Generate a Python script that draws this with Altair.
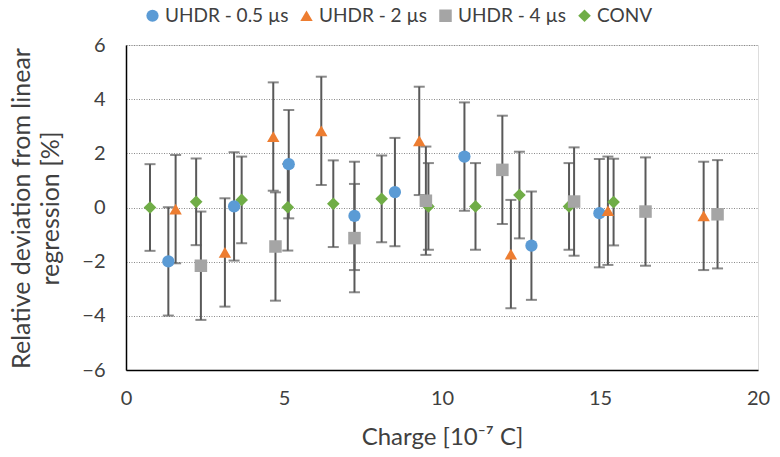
import altair as alt
import pandas as pd

# Series names (legend order)
series_names = ["UHDR - 0.5 µs", "UHDR - 2 µs", "UHDR - 4 µs", "CONV"]

# UHDR - 0.5 µs
blue_x = [1.34, 3.42, 5.15, 7.23, 8.51, 10.71, 12.83, 14.98]
blue_y = [-1.99, 0.04, 1.60, -0.31, 0.57, 1.88, -1.41, -0.21]
blue_err = [2.0, 2.0, 2.0, 2.0, 2.0, 2.0, 2.0, 2.0]

# UHDR - 2 µs
orange_x = [1.57, 3.13, 4.66, 6.18, 9.28, 12.18, 15.25, 18.28]
orange_y = [-0.06, -1.66, 2.62, 2.83, 2.46, -1.72, -0.12, -0.31]
orange_err = [2.0, 2.0, 2.0, 2.0, 2.0, 2.0, 2.0, 2.0]

# UHDR - 4 µs
gray_x = [2.37, 4.73, 7.23, 9.49, 11.91, 14.18, 16.44, 18.72]
gray_y = [-2.15, -1.44, -1.13, 0.25, 1.39, 0.22, -0.15, -0.25]
gray_err = [2.0, 2.0, 2.0, 2.0, 2.0, 2.0, 2.0, 2.0]

# CONV
green_x = [0.76, 2.22, 3.66, 5.12, 6.56, 8.09, 9.57, 11.06, 12.45, 14.02, 15.43]
green_y = [0.00, 0.21, 0.28, 0.01, 0.14, 0.32, 0.04, 0.04, 0.46, 0.04, 0.20]
green_err = [1.6, 1.6, 1.6, 1.6, 1.6, 1.6, 1.6, 1.6, 1.6, 1.6, 1.6]

x_ticks = [0, 5, 10, 15, 20]
y_ticks = [-6, -4, -2, 0, 2, 4, 6]

colors = ["#5B9BD5", "#ED7D31", "#A5A5A5", "#70AD47"]
shapes = ["circle", "triangle-up", "square", "diamond"]
sizes = [150, 160, 125, 125]

frames = []
for name, xs, ys, es in zip(
    series_names,
    [blue_x, orange_x, gray_x, green_x],
    [blue_y, orange_y, gray_y, green_y],
    [blue_err, orange_err, gray_err, green_err],
):
    frames.append(pd.DataFrame({"series": name, "charge": xs, "dev": ys, "err": es}))
df = pd.concat(frames, ignore_index=True)

FONT = "Lato"
TEXT = "#404040"

base = alt.Chart(df).transform_calculate(
    lo="datum.dev - datum.err", hi="datum.dev + datum.err"
)

x_enc = alt.X(
    "charge:Q",
    scale=alt.Scale(domain=[0, 20], nice=False),
    axis=alt.Axis(
        values=x_ticks,
        title="Charge [10⁻⁷ C]",
        grid=False,
        ticks=False,
        labelFlush=False,
        labelPadding=18,
        labelFontSize=20,
        titleFontSize=24,
        titleFontWeight="normal",
        titleY=67,
        titleBaseline="middle",
        domainColor="#000000",
        domainWidth=1.5,
    ),
)

y_scale = alt.Scale(domain=[-6, 6], nice=False)

rules = base.mark_rule(color="#595959", strokeWidth=2).encode(
    x="charge:Q",
    y=alt.Y("lo:Q", scale=y_scale),
    y2="hi:Q",
)

caps_lo = base.mark_tick(color="#595959", orient="horizontal", size=11, thickness=2).encode(
    x="charge:Q", y=alt.Y("lo:Q", scale=y_scale)
)
caps_hi = base.mark_tick(color="#595959", orient="horizontal", size=11, thickness=2).encode(
    x="charge:Q", y=alt.Y("hi:Q", scale=y_scale)
)

legend_opts = dict(
    title=None,
    orient="none",
    direction="horizontal",
    legendX=17,
    legendY=-39,
    labelFontSize=19,
    symbolSize=110,
    columnPadding=8,
    labelOffset=3,
)

points = alt.Chart(df).mark_point(filled=True, opacity=1).encode(
    x=x_enc,
    y=alt.Y(
        "dev:Q",
        scale=y_scale,
        axis=alt.Axis(
            values=y_ticks,
            title=["Relative deviation from linear", "regression [%]"],
            grid=True,
            gridColor="#8a8a8a",
            gridDash=[1, 1.5],
            gridWidth=1.2,
            ticks=False,
            labelFlush=False,
            labelPadding=21,
            labelFontSize=20,
            titleFontSize=25,
            titleFontWeight="normal",
            titleAngle=-90,
            titleX=-117,
            titleY=163,
            titleAlign="center",
            titleBaseline="top",
            titleLineHeight=29,
            domainColor="#000000",
            domainWidth=1.5,
        ),
    ),
    color=alt.Color(
        "series:N",
        scale=alt.Scale(domain=series_names, range=colors),
        legend=alt.Legend(**legend_opts),
    ),
    shape=alt.Shape(
        "series:N",
        scale=alt.Scale(domain=series_names, range=shapes),
        legend=alt.Legend(**legend_opts),
    ),
    size=alt.Size(
        "series:N",
        scale=alt.Scale(domain=series_names, range=sizes),
        legend=None,
    ),
    order=alt.Order("series:N"),
)

chart = (
    alt.layer(rules, caps_lo, caps_hi, points)
    .properties(
        width=632,
        height=325,
        autosize=alt.AutoSizeParams(type="none"),
        padding={"left": 126, "top": 45, "right": 22, "bottom": 87},
        background="#ffffff",
    )
    .configure_view(stroke=None)
    .configure(font=FONT)
    .configure_axis(labelColor=TEXT, titleColor=TEXT, labelFont=FONT, titleFont=FONT)
    .configure_legend(labelColor=TEXT, labelFont=FONT)
)

chart.save("out.html", embed_options={"renderer": "svg", "actions": False})
